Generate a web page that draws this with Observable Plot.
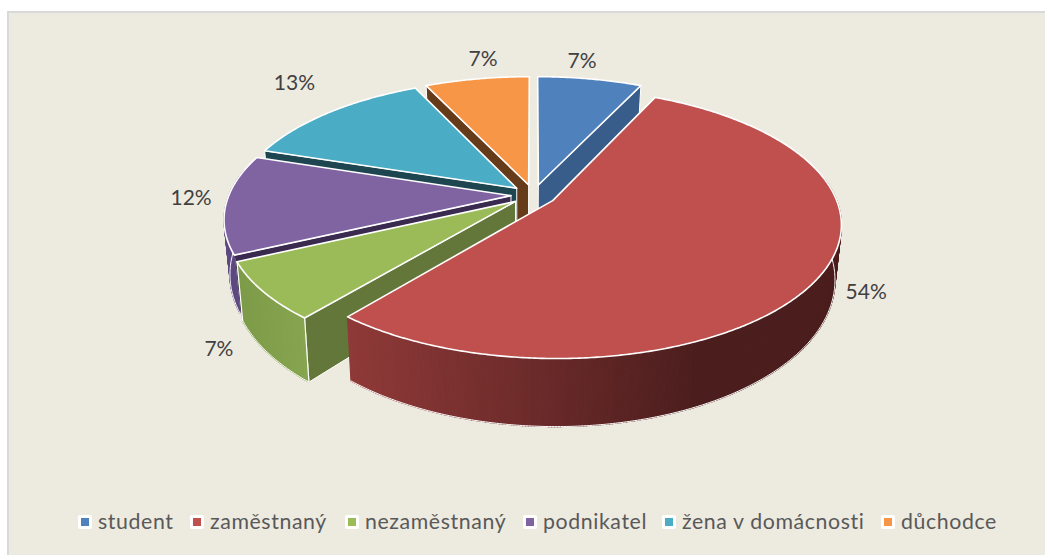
<!DOCTYPE html>
<html><head><meta charset="utf-8">
<script src="https://cdn.jsdelivr.net/npm/d3@7"></script>
<script src="https://cdn.jsdelivr.net/npm/@observablehq/plot@0.6"></script>
<style>
html,body{margin:0;padding:0;background:#fff;width:1045px;height:555px;overflow:hidden}
#card{position:absolute;left:7px;top:11px;width:1036px;height:544px;background:#edeae0;border:2px solid #d9d9d9;border-bottom:none;border-right:none}
#chart{position:absolute;left:-9px;top:-13px}
#legend{position:absolute;left:0;top:0;font:21.3px Lato,sans-serif;color:#595959;letter-spacing:.6px}
.k{position:absolute;top:496px;white-space:nowrap;line-height:24px}
.k i{position:absolute;left:-20px;top:6px;width:14px;height:14px;background:#fff;border-radius:2px}
.k i b{position:absolute;left:3px;top:3px;width:8px;height:8px}
</style></head><body>
<div id="card"><div id="chart"></div><div id="legend"></div></div>
<script>
const categories = ["student","zaměstnaný","nezaměstnaný","podnikatel","žena v domácnosti","důchodce"];
const percents   = [7,54,7,12,13,7];
const topColors  = ["#4f81bd","#c0504d","#9bbb59","#8064a2","#4bacc6","#f79646"];
const wallColors = ["#385d8a","#8f3a38","#64773a","#3a2a50","#1d4650","#663b1a"];
const rimLight   = ["#385d8a","#8f3a38","#7d9b49","#5e4a80","#1d4650","#663b1a"];
const rimDark    = ["#385d8a","#4c1e1e","#87a550","#5e4a80","#1d4650","#663b1a"];
const legendLeft = [89,201,356,534,673,892];
const paintOrder = [0,5,4,3,2,1];
const labelShift = [[-8,-18],[48,14],[-44,58],[-35,-6],[-35,-29],[6,-20]];

// pie model
const cx=533, cy=194.5, R=282, Ry=129.5, p=0.167, e=0.08;
const rad=d=>d*Math.PI/180;
const project=(X,Z)=>{const s=1/(1-p*Z);return [cx+R*X*s, cy+Ry*Z*s];};
const drop=([x,y])=>[x-.02*(x-520), y+57+.096*(y-243)];

let acc=0;
const slices=percents.map((v,i)=>{const a0=acc*3.6; acc+=v; const a1=acc*3.6; const m=rad((a0+a1)/2);
  return {i,v,a0,a1,ex:e*Math.sin(m),ez:-e*Math.cos(m),mid:(a0+a1)/2};});
const rim=(s,a)=>project(s.ex+Math.sin(rad(a)),s.ez-Math.cos(rad(a)));
const apex=s=>project(s.ex,s.ez);
const arc=(s,a,b)=>{const n=Math.max(2,Math.ceil(Math.abs(b-a)*2));return d3.range(n+1).map(k=>rim(s,a+(b-a)*k/n));};

let id=0;
const layers=[];
const poly=(pts,c)=>{const myId=id++; const closed=[...pts,pts[0]];
  closed.forEach(q=>layers.push({id:myId,x:q[0],y:q[1],c}));};
const marks=[];
const flush=(sw)=>{ if(layers.length){const rows=layers.splice(0);
  marks.push(Plot.line(rows,{x:"x",y:"y",z:"id",fill:"c",stroke:sw?"#fff":"c",strokeWidth:sw||1.2,curve:"linear",strokeLinejoin:"round"}));}};

for(const i of paintOrder){
  const s=slices[i];
  const walls=[];
  if(Math.sin(rad(s.a1))>0) walls.push(s.a1);
  if(Math.sin(rad(s.a0))<0) walls.push(s.a0);
  for(const a of walls){const A=apex(s),B=rim(s,a); poly([A,B,drop(B),drop(A)],wallColors[s.i]);}
  flush(1);
  const lo=Math.max(s.a0,80), hi=Math.min(s.a1,282);
  if(hi>lo){
    const pts=arc(s,lo,hi);
    const shade=d3.interpolateRgb(rimLight[s.i],rimDark[s.i]);
    const xs=pts.map(q=>q[0]);
    const x0=s.i===1?350:d3.min(xs), x1=s.i===1?700:d3.max(xs);
    for(let k=pts.length-2;k>=0;k--){
      const t=Math.min(1,Math.max(0,(pts[k][0]-x0)/(x1-x0||1)));
      poly([pts[k],pts[k+1],drop(pts[k+1]),drop(pts[k])],d3.color(shade(t)).formatHex());
    }
    flush(0);
    marks.push(Plot.line(pts.map(drop).map(q=>({x:q[0],y:q[1]})),{x:"x",y:"y",stroke:"#fff",strokeWidth:1,curve:"linear"}));
    const edge=q=>[q,drop(q)].map(v=>({x:v[0],y:v[1]}));
    if(s.i===2){marks.push(Plot.line(edge(pts[0]),{x:"x",y:"y",stroke:"#fff",strokeWidth:1.2}));
                marks.push(Plot.line(edge(pts[pts.length-1]),{x:"x",y:"y",stroke:"#fff",strokeWidth:1.2}));}
  }
  poly([apex(s),...arc(s,s.a0,s.a1)],topColors[s.i]);
  flush(1.6);
}

const labels=slices.map(s=>{const q=rim(s,s.mid),d=labelShift[s.i];return {t:s.v+"%",x:q[0]+d[0],y:q[1]+d[1]};});
marks.push(Plot.text(labels,{x:"x",y:"y",text:"t",fontSize:21,fill:"#404040",fontFamily:"Lato, sans-serif",textAnchor:"middle",lineAnchor:"middle"}));

const chart=Plot.plot({width:1045,height:500,margin:0,
  x:{domain:[0,1045],range:[0,1045],axis:null},
  y:{domain:[0,500],range:[0,500],axis:null},
  color:{type:"identity"},
  style:{background:"transparent"},
  marks});
document.getElementById("chart").append(chart);

const lg=document.getElementById("legend");
categories.forEach((c,i)=>{const d=document.createElement("div");d.className="k";d.style.left=legendLeft[i]+"px";
  d.innerHTML=`<i><b style="background:${topColors[i]}"></b></i>${c}`;lg.append(d);});
</script>
</body></html>
